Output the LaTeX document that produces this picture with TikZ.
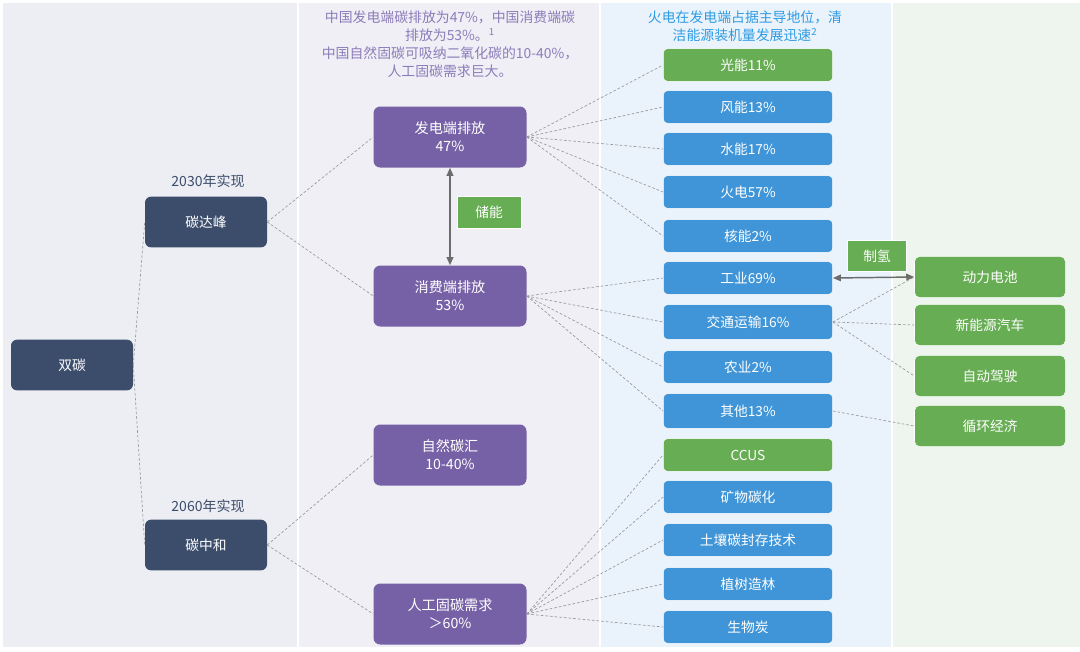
\documentclass[tikz,border=0pt]{standalone}
\usepackage{fontspec}
\setmainfont{Noto Sans CJK SC}
\usetikzlibrary{arrows.meta}
\definecolor{navy}{HTML}{3C4D6B}
\definecolor{purp}{HTML}{7661A6}
\definecolor{skyb}{HTML}{3F95D7}
\definecolor{leaf}{HTML}{67AD53}
\definecolor{bgA}{HTML}{ECEEF3}
\definecolor{bgB}{HTML}{F0EFF5}
\definecolor{bgC}{HTML}{EAF3FB}
\definecolor{bgD}{HTML}{EEF5EE}
\definecolor{notep}{HTML}{8C7CBA}
\definecolor{noteb}{HTML}{2F9BE3}
\begin{document}
\begin{tikzpicture}[x=0.75pt,y=-0.75pt, every node/.style={font=\fontsize{10.3}{12.5}\selectfont},
  root/.style={fill=navy,text=white,rounded corners=4.5pt,minimum width=91.5pt,minimum height=38pt,align=center},
  mid/.style={fill=purp,text=white,rounded corners=5pt,minimum width=114.75pt,minimum height=45.75pt,align=center,font=\fontsize{10.6}{13.5}\selectfont},
  leafb/.style={fill=skyb,draw=white,line width=0.4pt,text=white,rounded corners=3pt,minimum width=127pt,minimum height=24.5pt},
  leafg/.style={leafb,fill=leaf},
  endg/.style={fill=leaf,draw=white,line width=0.4pt,text=white,rounded corners=4pt,minimum width=113.25pt,minimum height=31pt},
  tag/.style={fill=leaf,draw=white,line width=0.6pt,text=white,minimum width=48pt,minimum height=24pt},
  link/.style={gray!80,line width=0.5pt,dash pattern=on 2pt off 1.5pt},
  both/.style={{Triangle[length=6pt,width=5pt]}-{Triangle[length=6pt,width=5pt]},gray!85!black,line width=1.1pt}]
\useasboundingbox (0,0) rectangle (1080,651);
% column backgrounds
\fill[bgA] (3,3) rectangle (297,647);
\fill[bgB] (299,3) rectangle (599,647);
\fill[bgC] (601,3) rectangle (891,647);
\fill[bgD] (893,3) rectangle (1080,647);
% column notes
\node[text=notep,align=center,font=\fontsize{10.4}{13.5}\selectfont] (noteL) at (450,44) {中国发电端碳排放为47\%，中国消费端碳\\排放为53\%。\textsuperscript{1}\\中国自然固碳可吸纳二氧化碳的10-40\%，\\人工固碳需求巨大。};
\node[text=noteb,align=center,font=\fontsize{10.4}{13.5}\selectfont] (noteR) at (745,26) {火电在发电端占据主导地位，清\\洁能源装机量发展迅速\textsuperscript{2}};
% roots
\node[root] (dual) at (72,365) {双碳};
\node[root] (peak) at (206,222) {碳达峰};
\node[root] (neut) at (206,545) {碳中和};
\node[text=navy,font=\fontsize{10.5}{12}\selectfont] (peakyr) at (208,181) {2030年实现};
\node[text=navy,font=\fontsize{10.5}{12}\selectfont] (neutyr) at (208,506) {2060年实现};
\draw[link] (dual.east) -- (peak.west);
\draw[link] (dual.east) -- (neut.west);
% middle column
\node[mid] (gen) at (450,137) {发电端排放\\47\%};
\node[mid] (use) at (450,296) {消费端排放\\53\%};
\node[mid] (sink) at (450,455) {自然碳汇\\10-40\%};
\node[mid] (art) at (450,614) {人工固碳需求\\＞60\%};
\draw[link] (peak.east) -- (gen.west); \draw[link] (peak.east) -- (use.west);
\draw[link] (neut.east) -- (sink.west); \draw[link] (neut.east) -- (art.west);
\draw[both] (gen.south) -- (use.north);
\node[tag] (store) at (489,212) {储能};
% power side
\node[leafg] (solar) at (748,65) {光能11\%};
\node[leafb] (wind) at (748,107) {风能13\%};
\node[leafb] (hydro) at (748,149) {水能17\%};
\node[leafb] (fire) at (748,192) {火电57\%};
\node[leafb] (nucl) at (748,236) {核能2\%};
\foreach \n in {solar,wind,hydro,fire,nucl} \draw[link] (gen.east) -- (\n.west);
% consumption side
\node[leafb] (indu) at (748,278) {工业69\%};
\node[leafb,minimum height=26pt] (trans) at (748,322) {交通运输16\%};
\node[leafb] (farm) at (748,367) {农业2\%};
\node[leafb,minimum height=26pt] (other) at (748,411) {其他13\%};
\foreach \n in {indu,trans,farm,other} \draw[link] (use.east) -- (\n.west);
% carbon fixing
\node[leafg] (ccus) at (748,455) {CCUS};
\node[leafb] (mine) at (748,497) {矿物碳化};
\node[leafb] (soil) at (748,540) {土壤碳封存技术};
\node[leafb] (tree) at (748,584) {植树造林};
\node[leafb] (char) at (748,627) {生物炭};
\foreach \n in {ccus,mine,soil,tree,char} \draw[link] (art.east) -- (\n.west);
% applications
\node[endg] (batt) at (990,277) {动力电池};
\node[endg] (ev) at (990,325) {新能源汽车};
\node[endg] (auto) at (990,376) {自动驾驶};
\node[endg] (circ) at (990,426) {循环经济};
\draw[both] (indu.east) -- (batt.west);
\node[tag,minimum width=44pt,minimum height=23pt] (hydr) at (877,256) {制氢};
\foreach \n in {batt,ev,auto} \draw[link] (trans.east) -- (\n.west);
\draw[link] (other.east) -- (circ.west);
\end{tikzpicture}
\end{document}
